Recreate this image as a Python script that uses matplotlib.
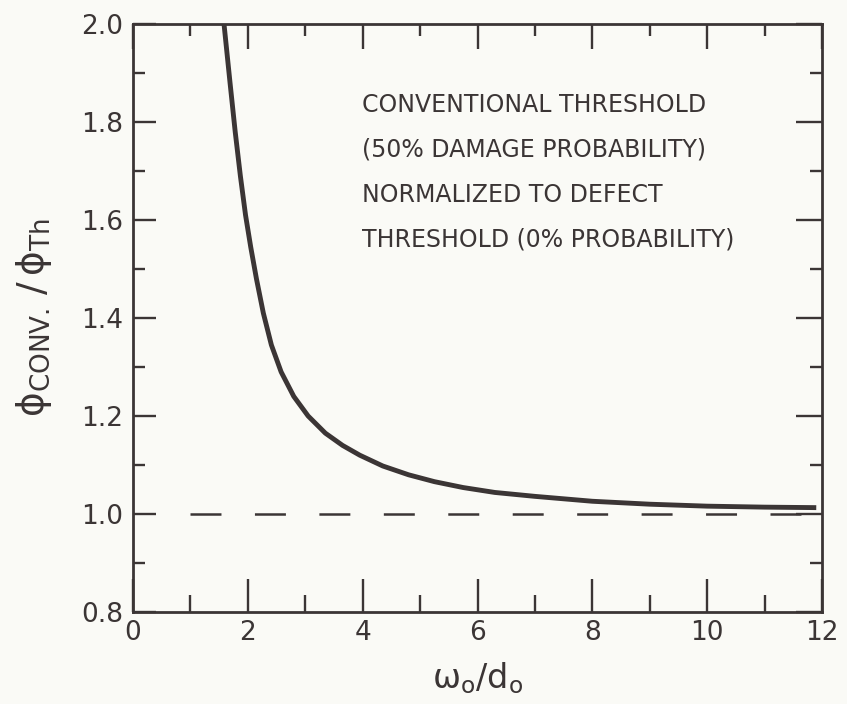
import numpy as np
import matplotlib.pyplot as plt
from matplotlib.ticker import MultipleLocator, NullFormatter

# ── Curve ────────────────────────────────────────────────────────────────────
w_over_d = [1.585, 1.69, 1.78, 1.87, 1.96, 2.05, 2.15, 2.27, 2.41, 2.58,
            2.80, 3.05, 3.35, 3.65, 3.95, 4.35, 4.80, 5.25, 5.75, 6.30,
            7.00, 7.50, 8.00, 9.00, 10.00, 11.00, 11.90]
phi_ratio = [2.000, 1.880, 1.780, 1.690, 1.610, 1.545, 1.480, 1.410, 1.345, 1.290,
             1.240, 1.200, 1.165, 1.140, 1.120, 1.098, 1.080, 1.066, 1.054, 1.044,
             1.036, 1.031, 1.026, 1.020, 1.016, 1.014, 1.013]

# dashed reference at ratio = 1
ref_x = [1.0, 12.0]
ref_y = [1.0, 1.0]

note_lines = ["CONVENTIONAL THRESHOLD",
              "(50% DAMAGE PROBABILITY)",
              "NORMALIZED TO DEFECT",
              "THRESHOLD (0% PROBABILITY)"]

# ── Colours ───────────────────────────────────────────────────────────────────
BG  = '#fafaf6'
INK = '#3b3535'

plt.rcParams['mathtext.fontset'] = 'dejavusans'

fig = plt.figure(figsize=(8.47, 7.04), dpi=100, facecolor=BG)
ax = fig.add_axes([133 / 847, 1 - 612 / 704, (822 - 133) / 847, (612 - 24) / 704])
ax.set_facecolor(BG)

ax.plot(w_over_d, phi_ratio, color=INK, lw=3.5, solid_capstyle='butt',
        solid_joinstyle='round', zorder=3)
lw_ref = 1.8
ax.plot(ref_x, ref_y, color=INK, lw=lw_ref,
        ls=(0, (22.3 / lw_ref, 24.1 / lw_ref)), zorder=2)

ax.set_xlim(0, 12)
ax.set_ylim(0.8, 2.0)

for s in ax.spines.values():
    s.set_linewidth(2.0)
    s.set_color(INK)

ax.xaxis.set_major_locator(MultipleLocator(2))
ax.xaxis.set_minor_locator(MultipleLocator(1))
ax.yaxis.set_major_locator(MultipleLocator(0.2))
ax.yaxis.set_minor_locator(MultipleLocator(0.1))
ax.yaxis.set_major_formatter(lambda v, p: f'{v:.1f}')

ax.tick_params(axis='x', which='major', direction='in', length=24, width=1.7,
               color=INK, labelsize=19, labelcolor=INK, pad=6, top=False)
ax.tick_params(axis='x', which='minor', direction='in', length=12, width=1.7,
               color=INK, top=False)
ax.tick_params(axis='y', which='major', direction='in', length=16.5, width=1.7,
               color=INK, labelsize=19, labelcolor=INK, pad=7, right=False)
ax.tick_params(axis='y', which='minor', direction='in', length=8.6, width=1.7,
               color=INK, right=False)

# top and right ticks are shorter than the bottom ones in the original
top = ax.secondary_xaxis('top')
top.xaxis.set_major_locator(MultipleLocator(2))
top.xaxis.set_minor_locator(MultipleLocator(1))
top.xaxis.set_major_formatter(NullFormatter())
top.tick_params(which='major', direction='in', length=18, width=1.7, color=INK)
top.tick_params(which='minor', direction='in', length=8.6, width=1.7, color=INK)
top.spines['top'].set_visible(False)

right = ax.secondary_yaxis('right')
right.yaxis.set_major_locator(MultipleLocator(0.2))
right.yaxis.set_minor_locator(MultipleLocator(0.1))
right.yaxis.set_major_formatter(NullFormatter())
right.tick_params(which='major', direction='in', length=18.5, width=1.7, color=INK)
right.tick_params(which='minor', direction='in', length=8.6, width=1.7, color=INK)
right.spines['right'].set_visible(False)

ax.set_xlabel(r'$\mathrm{\omega_{o}/d_{o}}$', fontsize=24,
              color=INK, labelpad=10)
ax.set_ylabel(r'$\mathrm{\phi_{CONV.}\,/\,\phi_{Th}}$', fontsize=27,
              color=INK, labelpad=20)

# ── Annotation block ─────────────────────────────────────────────────────────
for i, line in enumerate(note_lines):
    fig.text(362 / 847, 1 - (105 + 45 * i) / 704, line, fontsize=17,
             color=INK, ha='left', va='center')

fig.savefig('out.png', dpi=100, facecolor=BG)
